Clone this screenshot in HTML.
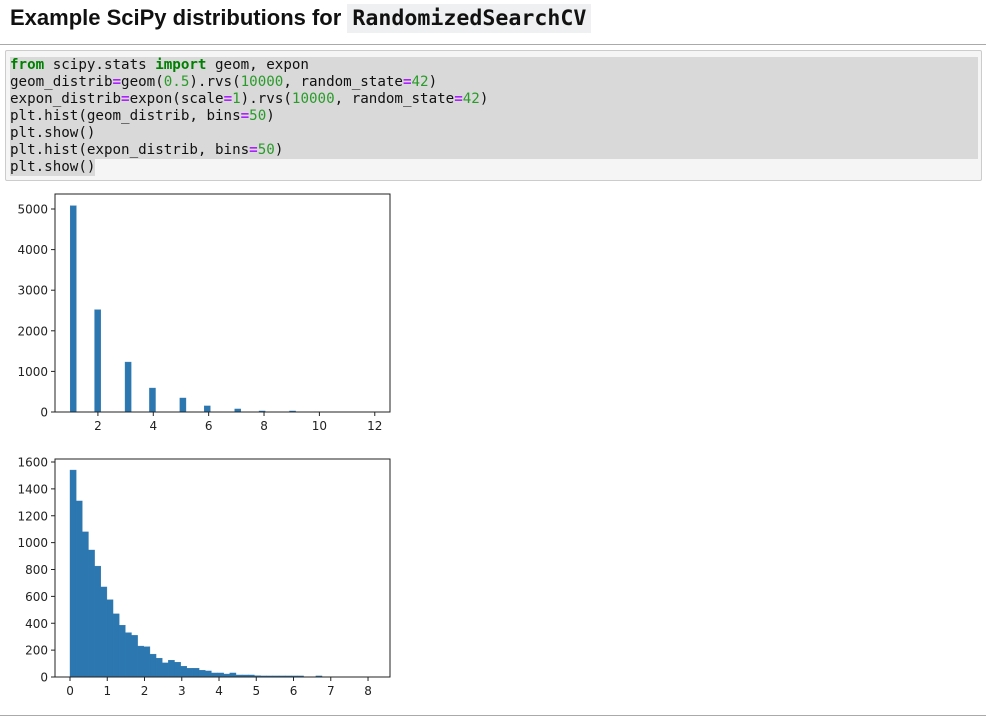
<!DOCTYPE html>
<html><head><meta charset="utf-8">
<style>
body{margin:0;width:986px;height:724px;background:#fff;position:relative;overflow:hidden;font-family:"Liberation Sans",sans-serif}
#title{position:absolute;left:10px;top:5px;font-size:22px;font-weight:bold;color:#111;margin:0;white-space:nowrap}
#title code{font-family:"DejaVu Sans Mono",monospace;background:#eff0f1;padding:2px 5px;font-size:21.6px;font-weight:bold}
.hr{position:absolute;left:0;width:986px;height:1px;background:#aaa}
#code{position:absolute;left:5px;top:50px;width:975px;height:129px;background:#f5f5f5;border:1px solid #ccc;border-radius:2px}
#code pre{margin:0;position:absolute;left:4px;top:6px;font-family:"DejaVu Sans Mono",monospace;font-size:14.2px;line-height:17px;color:#111}
.ln{display:block;background:#d9d9d9;width:968px;height:17px}
.ln.last{display:inline-block;width:auto}
.k{color:#008000;font-weight:bold}.o{color:#aa22ff;font-weight:bold}.n{color:#2a9b2a}
svg{position:absolute;left:0;top:0}
svg text{font-family:"DejaVu Sans",sans-serif;font-size:12px;fill:#222}
</style></head><body>
<h1 id="title">Example SciPy distributions for <code>RandomizedSearchCV</code></h1>
<div class="hr" style="top:44px"></div>
<div id="code"><pre><span class="ln"><span class="k">from</span> scipy.stats <span class="k">import</span> geom, expon</span><span class="ln">geom_distrib<span class="o">=</span>geom(<span class="n">0.5</span>).rvs(<span class="n">10000</span>, random_state<span class="o">=</span><span class="n">42</span>)</span><span class="ln">expon_distrib<span class="o">=</span>expon(scale<span class="o">=</span><span class="n">1</span>).rvs(<span class="n">10000</span>, random_state<span class="o">=</span><span class="n">42</span>)</span><span class="ln">plt.hist(geom_distrib, bins<span class="o">=</span><span class="n">50</span>)</span><span class="ln">plt.show()</span><span class="ln">plt.hist(expon_distrib, bins<span class="o">=</span><span class="n">50</span>)</span><span class="ln last">plt.show()</span></pre></div>
<div class="hr" style="top:715px"></div>
<svg id="charts" width="986" height="724"></svg>
<script>
// Chart 1: geometric distribution counts per integer value
const geomValues=[1,2,3,4,5,6,7,8,9,10,11,12];
const geomCounts=[5080,2520,1230,590,345,150,75,25,25,8,3,1];
const geomXTicks=[2,4,6,8,10,12];
const geomYTicks=[0,1000,2000,3000,4000,5000];
// Chart 2: exponential distribution histogram counts (50 bins)
const exponCounts=[1540,1310,1080,945,825,670,575,470,385,330,310,230,225,170,140,105,125,110,80,65,65,50,45,30,30,22,30,15,15,15,10,8,8,8,8,8,8,8,0,0,8,0,0,0,0,0,0,0,0,1];
const exponMin=0, exponMax=8.25;
const exponXTicks=[0,1,2,3,4,5,6,7,8];
const exponYTicks=[0,200,400,600,800,1000,1200,1400,1600];

const NS='http://www.w3.org/2000/svg';
const svg=document.getElementById('charts');
function mk(tag,attrs){const e=document.createElementNS(NS,tag);for(const k in attrs)e.setAttribute(k,attrs[k]);svg.appendChild(e);return e;}

function drawChart(box,xmin,xmax,ymax,bins,xTicks,yTicks,prefix){
  const sx=v=>box.l+(v-xmin)/(xmax-xmin)*(box.r-box.l);
  const sy=v=>box.b-v/ymax*(box.b-box.t);
  bins.forEach((b,i)=>{
    if(b.c<=0)return;
    const r=mk('rect',{x:sx(b.x0),y:sy(b.c),width:Math.max(sx(b.x1)-sx(b.x0),0.5),height:box.b-sy(b.c),fill:'#2c77b0',stroke:'#2c77b0','stroke-width':0.4});
    
    
  });
  const f=mk('rect',{x:box.l,y:box.t,width:box.r-box.l,height:box.b-box.t,fill:'none',stroke:'#222','stroke-width':1});
  
  
  xTicks.forEach(t=>{
    const x=sx(t);
    mk('line',{x1:x,x2:x,y1:box.b,y2:box.b+4,stroke:'#222'});
    const tx=mk('text',{x:x,y:box.b+18,'text-anchor':'middle'});tx.textContent=t;
    
    
  });
  yTicks.forEach(t=>{
    const y=sy(t);
    mk('line',{x1:box.l-4,x2:box.l,y1:y,y2:y,stroke:'#222'});
    const tx=mk('text',{x:box.l-7,y:y+4.5,'text-anchor':'end'});tx.textContent=t;
    
    
  });
}

(function(){
  const mn=Math.min(...geomValues), mx=Math.max(...geomValues), w=(mx-mn)/50;
  const counts=new Array(50).fill(0);
  geomValues.forEach((v,i)=>{let k=Math.floor((v-mn)/w+1e-9);if(k>=50)k=49;counts[k]+=geomCounts[i];});
  const bins=counts.map((c,i)=>({x0:mn+i*w,x1:mn+(i+1)*w,c:c}));
  drawChart({l:55,r:390,t:194,b:412},0.45,12.55,5000*(218/203),bins,geomXTicks,geomYTicks,'geom');
})();
(function(){
  const w=(exponMax-exponMin)/exponCounts.length;
  const bins=exponCounts.map((c,i)=>({x0:exponMin+i*w,x1:exponMin+(i+1)*w,c:c}));
  drawChart({l:55,r:390,t:459,b:677},-0.403,8.59,1600*(218/215),bins,exponXTicks,exponYTicks,'expon');
})();
</script>
</body></html>
